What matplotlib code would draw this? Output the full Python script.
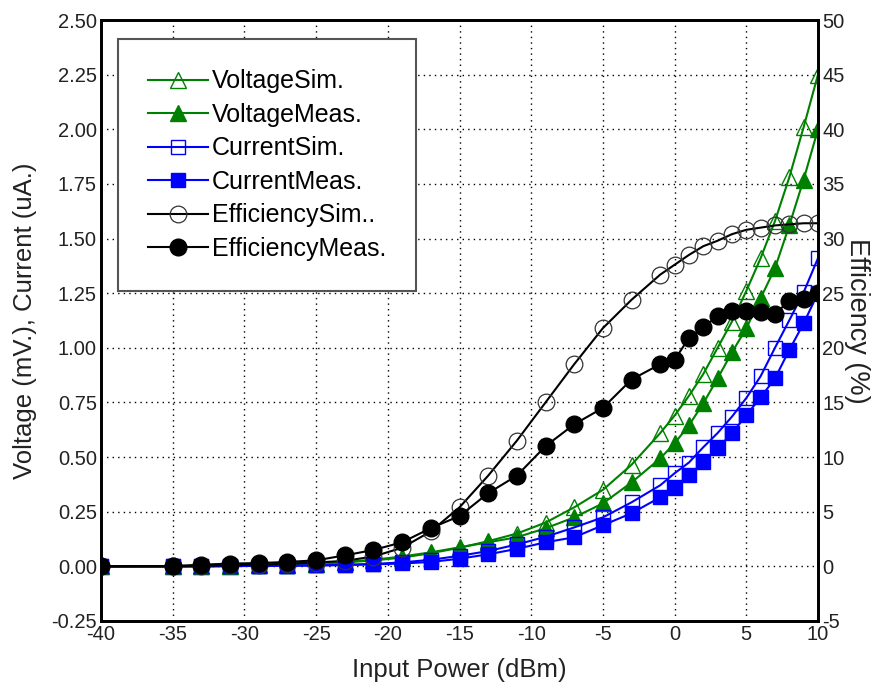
import matplotlib
matplotlib.use('Agg')
import matplotlib.pyplot as plt
from matplotlib.ticker import FormatStrFormatter

plt.rcParams['font.family'] = ['Liberation Sans', 'DejaVu Sans']
plt.rcParams['axes.unicode_minus'] = False

# Potencia de entrada (dBm)
potencia = [-40, -35, -33, -31, -29, -27, -25, -23, -21, -19, -17, -15, -13, -11, -9,
            -7, -5, -3, -1, 0, 1, 2, 3, 4, 5, 6, 7, 8, 9, 10]

# Voltaje (mV.)
voltaje_sim = [0.0, 0.0, 0.001, 0.002, 0.004, 0.007, 0.011, 0.018, 0.027, 0.04, 0.06, 0.085,
               0.115, 0.15, 0.20, 0.27, 0.35, 0.465, 0.61, 0.69, 0.78, 0.88, 1.00, 1.12,
               1.26, 1.41, 1.58, 1.78, 2.01, 2.25]
voltaje_meas = [0.0, 0.0, 0.001, 0.002, 0.004, 0.007, 0.012, 0.02, 0.03, 0.045, 0.064, 0.087,
                0.11, 0.133, 0.174, 0.224, 0.288, 0.384, 0.494, 0.563, 0.645, 0.746, 0.86,
                0.979, 1.089, 1.227, 1.364, 1.56, 1.77, 2.0]

# Corriente (uA.)
corriente_sim = [0.0, 0.0, 0.0, 0.001, 0.002, 0.003, 0.004, 0.007, 0.011, 0.018, 0.03, 0.048,
                 0.07, 0.10, 0.135, 0.178, 0.224, 0.293, 0.371, 0.426, 0.475, 0.545, 0.61,
                 0.685, 0.77, 0.87, 1.0, 1.126, 1.254, 1.41]
corriente_meas = [0.0, 0.0, 0.0, 0.001, 0.002, 0.003, 0.004, 0.006, 0.009, 0.013, 0.02, 0.035,
                  0.055, 0.08, 0.11, 0.133, 0.188, 0.243, 0.316, 0.357, 0.416, 0.476, 0.54,
                  0.609, 0.691, 0.773, 0.86, 0.99, 1.112, 1.25]

# Eficiencia (%)
eficiencia_sim = [0.0, 0.0, 0.05, 0.1, 0.15, 0.25, 0.35, 0.5, 0.9, 1.7, 3.2, 5.4, 8.3, 11.5,
                  15.0, 18.5, 21.8, 24.4, 26.7, 27.6, 28.5, 29.3, 29.8, 30.4, 30.8, 31.0,
                  31.2, 31.3, 31.4, 31.4]
eficiencia_meas = [0.0, 0.03, 0.15, 0.25, 0.3, 0.4, 0.55, 1.0, 1.5, 2.2, 3.5, 4.6, 6.7, 8.3,
                   11.0, 13.0, 14.5, 17.1, 18.5, 18.9, 20.9, 21.9, 22.9, 23.4, 23.4, 23.3,
                   23.1, 24.3, 24.5, 25.0]

xticks = [-40, -35, -30, -25, -20, -15, -10, -5, 0, 5, 10]
yticks_izq = [-0.25, 0.0, 0.25, 0.5, 0.75, 1.0, 1.25, 1.5, 1.75, 2.0, 2.25, 2.5]
yticks_der = [-5, 0, 5, 10, 15, 20, 25, 30, 35, 40, 45, 50]

verde = '#008000'
azul = '#0000ff'
negro = '#000000'

fig = plt.figure(figsize=(8.77, 6.86), dpi=100)
ax = fig.add_axes([0.1152, 0.0948, 0.8175, 0.876])
ax2 = ax.twinx()

# Voltaje y corriente en el eje izquierdo
l1, = ax.plot(potencia, voltaje_sim, '-', color=verde, lw=1.5, marker='^', ms=12,
              mfc='none', mec=verde, mew=1.0, label='VoltageSim.')
l2, = ax.plot(potencia, voltaje_meas, '-', color=verde, lw=1.5, marker='^', ms=12,
              mfc=verde, mec=verde, label='VoltageMeas.')
l3, = ax.plot(potencia, corriente_sim, '-', color=azul, lw=1.5, marker='s', ms=10.5,
              mfc='none', mec=azul, mew=1.0, label='CurrentSim.')
l4, = ax.plot(potencia, corriente_meas, '-', color=azul, lw=1.5, marker='s', ms=10.5,
              mfc=azul, mec=azul, label='CurrentMeas.')

# Eficiencia en el eje derecho
l5, = ax2.plot(potencia, eficiencia_sim, '-', color=negro, lw=1.5, marker='o', ms=12,
               mfc='none', mec='#333333', mew=0.9, label='EfficiencySim..')
l6, = ax2.plot(potencia, eficiencia_meas, '-', color=negro, lw=1.5, marker='o', ms=12,
               mfc=negro, mec=negro, label='EfficiencyMeas.')

ax.set_xlim(-40, 10)
ax.set_ylim(-0.25, 2.5)
ax2.set_ylim(-5, 50)
ax.set_xticks(xticks)
ax.set_yticks(yticks_izq)
ax2.set_yticks(yticks_der)
ax.yaxis.set_major_formatter(FormatStrFormatter('%.2f'))

ax.grid(True, color='black', linestyle=(0, (1, 3)), linewidth=1.0)

for a in (ax, ax2):
    for s in a.spines.values():
        s.set_linewidth(2.0)
        s.set_color('black')
    a.tick_params(length=0, labelsize=14.5, colors='#222222', pad=3)

ax.set_xlabel('Input Power (dBm)', fontsize=18.5, color='#222222', labelpad=10)
ax.set_ylabel('Voltage (mV.), Current (uA.)', fontsize=18.5, color='#222222', labelpad=10)
ax2.set_ylabel('Efficiency (%)', fontsize=19.5, color='#222222', rotation=270, labelpad=18)

leg = ax2.legend(handles=[l1, l2, l3, l4, l5, l6], loc='upper left',
                 bbox_to_anchor=(0.0237, 0.968), borderaxespad=0, fontsize=18,
                 numpoints=1, handlelength=2.4, handletextpad=0.15, labelspacing=0.38,
                 borderpad=1.2, fancybox=False, framealpha=1, edgecolor='#555555')
leg.get_frame().set_linewidth(1.5)

plt.savefig('out.png', dpi=100)
